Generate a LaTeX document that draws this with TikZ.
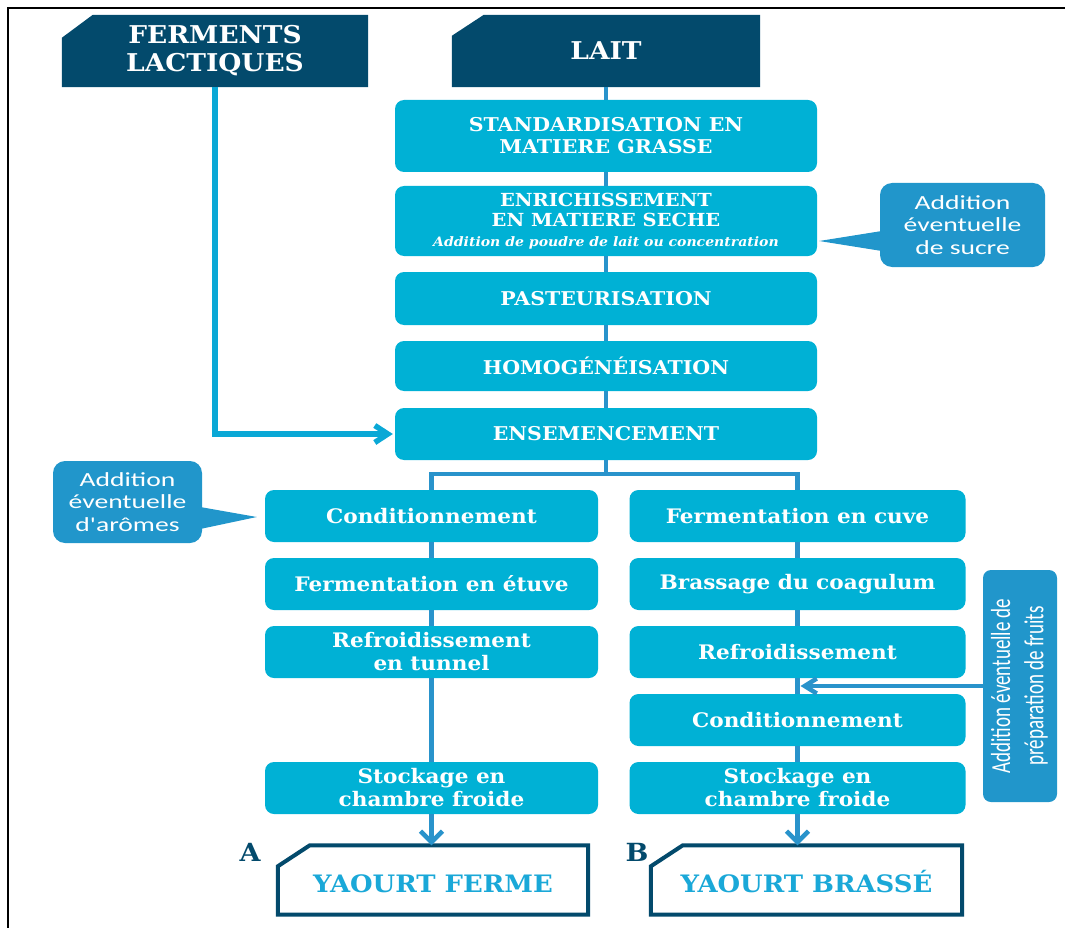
\documentclass[tikz,border=0pt]{standalone}
\usepackage{fontspec}
\usetikzlibrary{arrows.meta,backgrounds,calc}
\newfontfamily\boxfont[FakeStretch=1.08]{DejaVu Serif}
\newfontfamily\callfont[FakeStretch=1.38]{Carlito}
\newfontfamily\callfontr{Carlito}
\definecolor{navy}{HTML}{034A6C}
\definecolor{boxcyan}{HTML}{00B1D5}
\definecolor{callblue}{HTML}{2196CB}
\definecolor{lineblue}{HTML}{2993CB}
\definecolor{fermline}{HTML}{0AA8D6}
\definecolor{yaourtblue}{HTML}{1AA8D8}
\tikzset{
  stepbox/.style={fill=boxcyan, rounded corners=9pt, text=white, align=center, inner sep=0pt,
    font=\boxfont\bfseries\fontsize{19}{22}\selectfont},
  mainbox/.style={stepbox, minimum width=422pt},
  lowbox/.style={stepbox, minimum height=52pt, font=\boxfont\bfseries\fontsize{20}{23}\selectfont},
  leftbox/.style={lowbox, minimum width=333pt},
  rightbox/.style={lowbox, minimum width=336pt},
  headbox/.style={text=white, align=center, inner sep=0pt, minimum width=306pt, minimum height=72pt,
    font=\boxfont\bfseries\fontsize{24.5}{28}\selectfont},
  endbox/.style={text=yaourtblue, inner sep=0pt, minimum width=310pt, minimum height=69pt,
    font=\boxfont\bfseries\fontsize{24}{27}\selectfont},
  callout/.style={fill=callblue, rounded corners=12pt, text=white, align=center, inner sep=0pt,
    font=\callfont\fontsize{20}{22.5}\selectfont},
  letterlab/.style={text=navy, inner sep=0pt, font=\boxfont\bfseries\fontsize{25}{28}\selectfont},
  conn/.style={draw=lineblue, line width=4.5pt},
  fermconn/.style={draw=fermline, line width=5.5pt},
}
\begin{document}
\begin{tikzpicture}[x=1pt,y=-1pt]
\useasboundingbox (0,0) rectangle (1065,928);
% frame
\draw[line width=2.5pt, black] (8,928) -- (8,8) -- (1065,8);

% head boxes
\node[headbox] (ferm) at (215,51) {FERMENTS\\LACTIQUES};
\node[headbox, minimum width=308pt] (lait) at (606,51) {LAIT};

% main column
\node[mainbox, minimum height=72pt] (std) at (606,136) {STANDARDISATION EN\\MATIERE GRASSE};
\node[mainbox, minimum height=70pt, font=\boxfont\bfseries\fontsize{18}{20}\selectfont] (enr) at (606,221)
  {ENRICHISSEMENT\\EN MATIERE SECHE\\{\itshape\fontsize{13}{16}\selectfont Addition de poudre de lait ou concentration}};
\node[mainbox, minimum height=53pt] (past) at (606,298.5) {PASTEURISATION};
\node[mainbox, minimum height=50pt] (homog) at (606,366) {HOMOGÉNÉISATION};
\node[mainbox, minimum height=52pt] (ens) at (606,434) {ENSEMENCEMENT};

% left column
\node[leftbox] (cond1) at (431.5,516) {Conditionnement};
\node[leftbox] (fet) at (431.5,584) {Fermentation en étuve};
\node[leftbox] (refr1) at (431.5,652) {Refroidissement\\en tunnel};
\node[leftbox] (stock1) at (431.5,788) {Stockage en\\chambre froide};

% right column
\node[rightbox] (fcuve) at (797.5,516) {Fermentation en cuve};
\node[rightbox] (brass) at (797.5,584) {Brassage du coagulum};
\node[rightbox] (refr2) at (797.5,652) {Refroidissement};
\node[rightbox] (cond2) at (797.5,720) {Conditionnement};
\node[rightbox] (stock2) at (797.5,788) {Stockage en\\chambre froide};

% callouts
\node[callout, minimum width=165pt, minimum height=84pt] (sucre) at (962.5,225) {Addition\\éventuelle\\de sucre};
\node[callout, minimum width=149pt, minimum height=82pt] (arom) at (127.5,502) {Addition\\éventuelle\\d'arômes};
\node[callout, rounded corners=8pt, minimum width=74pt, minimum height=232pt] (fruit) at (1020,686)
  {\rotatebox{90}{\scalebox{1}[1.45]{\callfontr\fontsize{19}{23}\selectfont
   \begin{tabular}{@{}c@{}}Addition éventuelle de\\préparation de fruits\end{tabular}}}};

% end products
\node[endbox] (yaourt1) at (433,880) {\raisebox{-12.5pt}[0pt][0pt]{YAOURT FERME}};
\node[endbox, minimum width=311pt] (yaourt2) at (806.5,880) {\raisebox{-12.5pt}[0pt][0pt]{YAOURT BRASSÉ}};
\node[letterlab] (la) at (250,852) {A};
\node[letterlab] (lb) at (637,852) {B};

% shapes on background
\begin{scope}[on background layer]
\fill[navy] (ferm.south west) -- ([yshift=-23pt]ferm.north west) -- ([xshift=31pt]ferm.north west)
  -- (ferm.north east) -- (ferm.south east) -- cycle;
\fill[navy] (lait.south west) -- ([yshift=-21pt]lait.north west) -- ([xshift=32pt]lait.north west)
  -- (lait.north east) -- (lait.south east) -- cycle;
\filldraw[fill=white, draw=navy, line width=4pt] (yaourt1.south west) -- ([yshift=-21pt]yaourt1.north west)
  -- ([xshift=32pt]yaourt1.north west) -- (yaourt1.north east) -- (yaourt1.south east) -- cycle;
\filldraw[fill=white, draw=navy, line width=4pt] (yaourt2.south west) -- ([yshift=-21pt]yaourt2.north west)
  -- ([xshift=32pt]yaourt2.north west) -- (yaourt2.north east) -- (yaourt2.south east) -- cycle;
\fill[callblue] ([xshift=2pt,yshift=-6pt]sucre.west) -- ([xshift=2pt,yshift=-20pt]enr.east)
  -- ([xshift=2pt,yshift=-26pt]sucre.west) -- cycle;
\fill[callblue] ([xshift=-2pt,yshift=-5pt]arom.east) -- ([xshift=-8pt,yshift=-1pt]cond1.west)
  -- ([xshift=-2pt,yshift=-27pt]arom.east) -- cycle;
\end{scope}

% connectors main
\draw[conn] (lait) -- (std);
\draw[conn] (std) -- (enr);
\draw[conn] (enr) -- (past);
\draw[conn] (past) -- (homog);
\draw[conn] (homog) -- (ens);
\draw[fermconn, -{Straight Barb[length=13pt,width=17pt]}, shorten >=2pt] (ferm.south) |- (ens.west);
\draw[conn] (ens.south) -- ++(0,14) coordinate (br);
\draw[conn] (cond1.north) |- (br) -| (fcuve.north);

% left column
\draw[conn] (cond1) -- (fet);
\draw[conn] (fet) -- (refr1);
\draw[conn] (refr1) -- (stock1);
\draw[conn, -{Straight Barb[length=11pt,width=22pt]}] (stock1.south) -- (stock1.south |- yaourt1.north);

% right column
\draw[conn] (fcuve) -- (brass);
\draw[conn] (brass) -- (refr2);
\draw[conn] (refr2) -- (cond2);
\draw[conn] (cond2) -- (stock2);
\draw[conn, -{Straight Barb[length=11pt,width=22pt]}] (stock2.south) -- (stock2.south |- yaourt2.north);

\coordinate (fj) at ($(refr2.south)!0.5!(cond2.north)$);
\draw[conn, -{Straight Barb[length=12pt,width=15pt]}] (fruit.west |- fj) -- ([xshift=3pt]fj);
\end{tikzpicture}
\end{document}
